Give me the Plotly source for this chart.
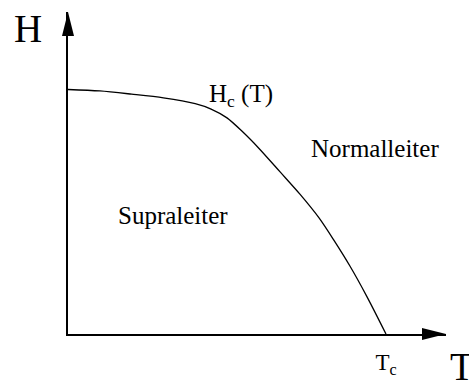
import plotly.graph_objects as go

# Critical field curve H_c(T), in units of T_c and H_c(0)
t_values = [0.0, 0.1, 0.2, 0.3, 0.4, 0.45, 0.5, 0.55, 0.6, 0.667, 0.73, 0.79, 0.835, 0.887, 0.94, 1.0]
h_values = [1.0, 0.994, 0.981, 0.966, 0.942, 0.92, 0.884, 0.826, 0.76, 0.663, 0.571, 0.474, 0.386, 0.277, 0.153, 0.0]

# Axis tick labels
x_tickvals = [1.0]
x_ticktext = ["T<sub>c</sub>"]

X_MAX = 1.1887
Y_MAX = 1.317

SERIF = "Liberation Serif, Times New Roman, serif"
INK = "#000000"

fig = go.Figure()
fig.add_trace(go.Scatter(
    x=t_values, y=h_values, mode="lines",
    line=dict(color=INK, width=1.3, shape="spline", smoothing=0.8),
    cliponaxis=False, hoverinfo="skip", showlegend=False,
))

# Arrow heads at the ends of both axes
fig.add_shape(type="path", xref="x domain", yref="y domain",
              xsizemode="pixel", ysizemode="pixel", xanchor=0, yanchor=1,
              path="M0,0 L-6,-24 L6,-24 Z", fillcolor=INK, line=dict(width=0))
fig.add_shape(type="path", xref="x domain", yref="y domain",
              xsizemode="pixel", ysizemode="pixel", xanchor=1, yanchor=0,
              path="M0,0 L-24,6 L-24,-6 Z", fillcolor=INK, line=dict(width=0))

# Axis names, placed beyond the axis ends
fig.add_annotation(xref="paper", yref="paper", x=-0.106, y=0.949, text="H", showarrow=False,
                   font=dict(family=SERIF, size=39, color=INK), xanchor="center", yanchor="middle")
fig.add_annotation(xref="paper", yref="paper", x=1.005, y=-0.101, text="T", showarrow=False,
                   font=dict(family=SERIF, size=39, color=INK), xanchor="left", yanchor="middle")

# Curve and region labels
fig.add_annotation(x=0.437, y=0.975, text="H<sub>c</sub> (T)", showarrow=False,
                   font=dict(family=SERIF, size=25, color=INK), xanchor="left", yanchor="middle")
fig.add_annotation(x=0.965, y=0.759, text="Normalleiter", showarrow=False,
                   font=dict(family=SERIF, size=25, color=INK), xanchor="center", yanchor="middle")
fig.add_annotation(x=0.330, y=0.485, text="Supraleiter", showarrow=False,
                   font=dict(family=SERIF, size=25, color=INK), xanchor="center", yanchor="middle")

fig.update_xaxes(range=[0, X_MAX], showgrid=False, zeroline=False, automargin=False,
                 showline=True, linecolor=INK, linewidth=1.5,
                 tickvals=x_tickvals, ticktext=x_ticktext, ticks="",
                 ticklabelstandoff=7,
                 tickfont=dict(family=SERIF, size=23, color=INK))
fig.update_yaxes(range=[0, Y_MAX], showgrid=False, zeroline=False, automargin=False,
                 showline=True, linecolor=INK, linewidth=1.5,
                 showticklabels=False, ticks="")

fig.update_layout(
    width=469, height=381,
    margin=dict(l=68, r=23, t=12, b=47, pad=0, autoexpand=False),
    paper_bgcolor="white", plot_bgcolor="white",
    showlegend=False,
)

fig.write_html("out.html")
